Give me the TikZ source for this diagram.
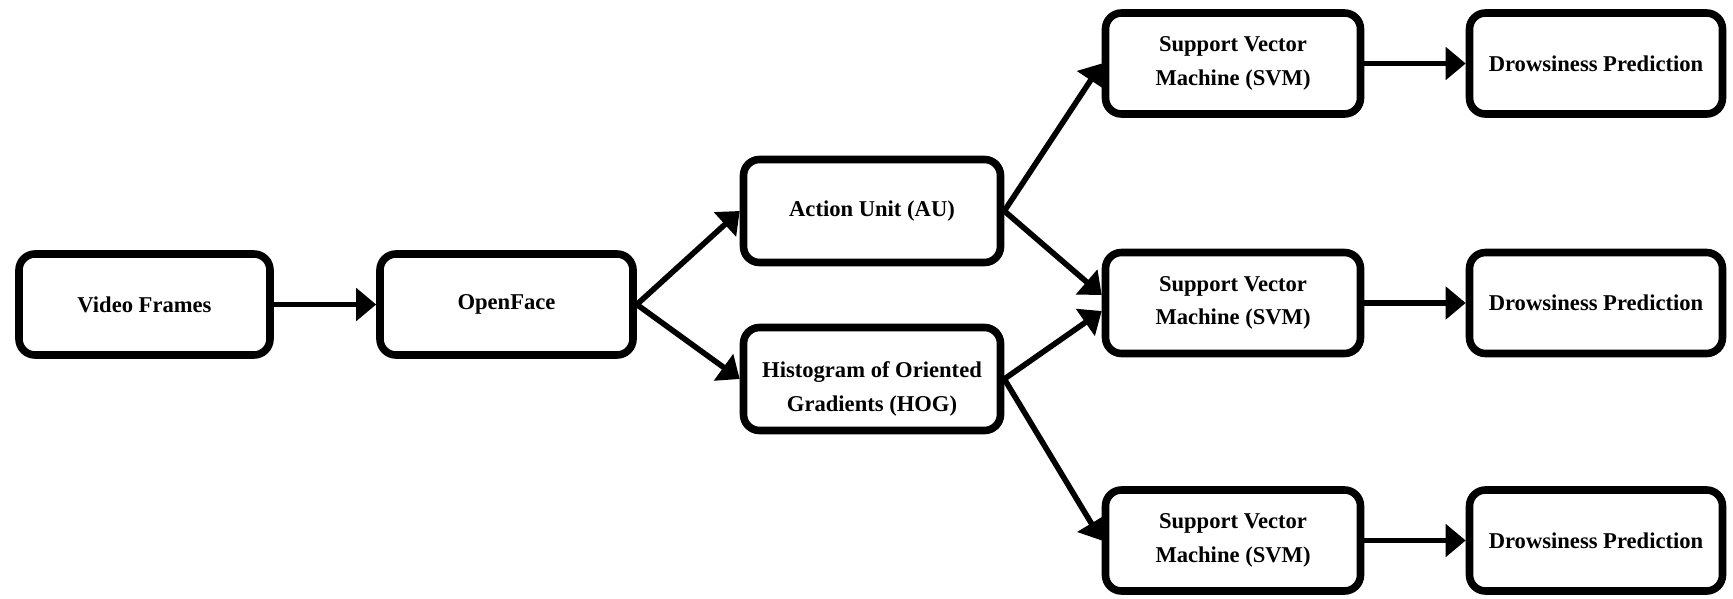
\documentclass[tikz,border=0pt]{standalone}
\usepackage{fontspec}
\setmainfont{Liberation Serif}
\usetikzlibrary{arrows.meta}
\begin{document}
\begin{tikzpicture}[x=0.5pt,y=-0.5pt,
  label text/.style={align=center, inner sep=0pt,
    font=\bfseries\fontsize{11.3}{16.8}\selectfont},
  box/.style={label text, draw=black, line width=3.8pt, rounded corners=8pt,
    fill=white, minimum width=126.5pt, minimum height=50.5pt},
  flow/.style={line width=2.8pt, -{Triangle[length=10pt,width=16pt]}}
]
\useasboundingbox (0,0) rectangle (1733,599);

% input and feature extraction
\node[box, minimum width=125.5pt] (vf)  at (144.5,304.5) {Video Frames};
\node[box] (of)  at (506.5,304.5) {OpenFace};
\node[box, minimum width=128.5pt, minimum height=51.5pt] (au)  at (872,211) {Action Unit (AU)};
\node[box, minimum width=128.5pt, minimum height=51.5pt] (hog) at (872,379) {};
\node[label text] (hogtext) at ([yshift=-5pt]hog.center) {Histogram of Oriented\\Gradients (HOG)};

% classifiers
\node[box, minimum width=127.5pt] (svm1) at (1233,63.5)  {Support Vector\\Machine (SVM)};
\node[box, minimum width=127.5pt] (svm2) at (1233,303)   {Support Vector\\Machine (SVM)};
\node[box, minimum width=127.5pt] (svm3) at (1233,540.5) {Support Vector\\Machine (SVM)};

% outputs
\node[box] (dp1) at (1596,63.5)  {Drowsiness Prediction};
\node[box] (dp2) at (1596,303)   {Drowsiness Prediction};
\node[box] (dp3) at (1596,540.5) {Drowsiness Prediction};

% connectors
\draw[flow] (vf) -- (of);
\draw[flow] (of.east) -- (au.west);
\draw[flow] (of.east) -- (hog.west);
\draw[flow] (au.east) -- (svm1.west);
\draw[flow] (au.east) -- ([yshift=4pt]svm2.west);
\draw[flow] (hog.east) -- ([yshift=-4pt]svm2.west);
\draw[flow] (hog.east) -- (svm3.west);
\draw[flow] (svm1) -- (dp1);
\draw[flow] (svm2) -- (dp2);
\draw[flow] (svm3) -- (dp3);
\end{tikzpicture}
\end{document}
